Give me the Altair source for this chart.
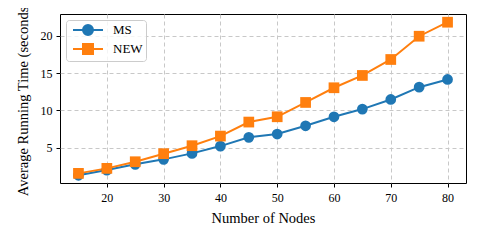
import altair as alt
import pandas as pd

nodes = [15, 20, 25, 30, 35, 40, 45, 50, 55, 60, 65, 70, 75, 80]
ms_time = [1.3, 2.0, 2.77, 3.44, 4.24, 5.22, 6.39, 6.83, 7.94, 9.15, 10.18, 11.47, 13.12, 14.15]
new_time = [1.56, 2.23, 3.12, 4.2, 5.27, 6.56, 8.44, 9.15, 11.07, 13.04, 14.69, 16.83, 19.95, 21.83]
methods = ["MS", "NEW"]
colors = ["#1f77b4", "#ff7f0e"]
x_ticks = [20, 30, 40, 50, 60, 70, 80]
y_ticks = [5, 10, 15, 20]

df = pd.DataFrame({
    "nodes": nodes + nodes,
    "time": ms_time + new_time,
    "method": ["MS"] * len(nodes) + ["NEW"] * len(nodes),
})

FONT = "Liberation Serif"

x_enc = alt.X("nodes:Q",
              scale=alt.Scale(domain=[11.75, 83.25], nice=False, zero=False),
              axis=alt.Axis(values=x_ticks, title="Number of Nodes"))
y_enc = alt.Y("time:Q",
              scale=alt.Scale(domain=[0.27, 22.93], nice=False, zero=False),
              axis=alt.Axis(values=y_ticks, title="Average Running Time (seconds)"))
color_scale = alt.Scale(domain=methods, range=colors)

circle_path = "M-2.5,0L2.5,0M0.833,0A0.833,0.833,0,1,1,-0.833,0A0.833,0.833,0,1,1,0.833,0Z"
square_path = "M-2.5,0L2.5,0M-0.833,-0.833L0.833,-0.833L0.833,0.833L-0.833,0.833Z"

leg = alt.Legend(title=None, orient="none", legendX=6, legendY=6,
                 padding=3, fillColor="rgba(255,255,255,0.8)", strokeColor="#cccccc",
                 cornerRadius=3, symbolSize=144, symbolStrokeWidth=2, symbolOpacity=1,
                 symbolOffset=12, labelOffset=18, rowPadding=1,
                 labelFont=FONT, labelFontSize=13, labelColor="black")

lines = alt.Chart(df).mark_line(strokeWidth=2).encode(
    x=x_enc, y=y_enc,
    color=alt.Color("method:N", scale=color_scale, legend=None))

points = alt.Chart(df).mark_point(filled=True, size=115, opacity=1).encode(
    x=x_enc, y=y_enc,
    color=alt.Color("method:N", scale=color_scale, legend=None),
    shape=alt.Shape("method:N", scale=alt.Scale(domain=methods, range=["circle", "square"]), legend=None))

legend_layer = alt.Chart(df).transform_filter("false").mark_point(opacity=1, strokeWidth=2).encode(
    x=x_enc, y=y_enc,
    fill=alt.Fill("method:N", scale=alt.Scale(domain=methods, range=colors), legend=leg),
    stroke=alt.Stroke("method:N", scale=alt.Scale(domain=methods, range=colors), legend=leg),
    shape=alt.Shape("method:N", scale=alt.Scale(domain=methods, range=[circle_path, square_path]), legend=leg))

chart = alt.layer(lines, points, legend_layer).resolve_scale(
    shape="independent", fill="independent", stroke="independent"
).properties(
    width=406, height=169,
    autosize=alt.AutoSizeParams(type="none"),
    padding={"left": 52, "top": 6, "right": 6, "bottom": 50},
).configure_view(
    stroke="black", strokeWidth=1
).configure_axis(
    grid=True, gridColor="#c8c8c8", gridDash=[4, 3], gridWidth=1,
    domain=False, tickColor="black", tickSize=4, tickWidth=1,
    labelFont=FONT, labelFontSize=12, labelColor="black",
    titleFont=FONT, titleFontSize=14.5, titleFontWeight="normal", titleColor="black",
).configure_axisX(titlePadding=8, labelPadding=5).configure_axisY(titlePadding=10, labelPadding=4)

chart.save("out.html", embed_options={"renderer": "svg", "actions": False})
